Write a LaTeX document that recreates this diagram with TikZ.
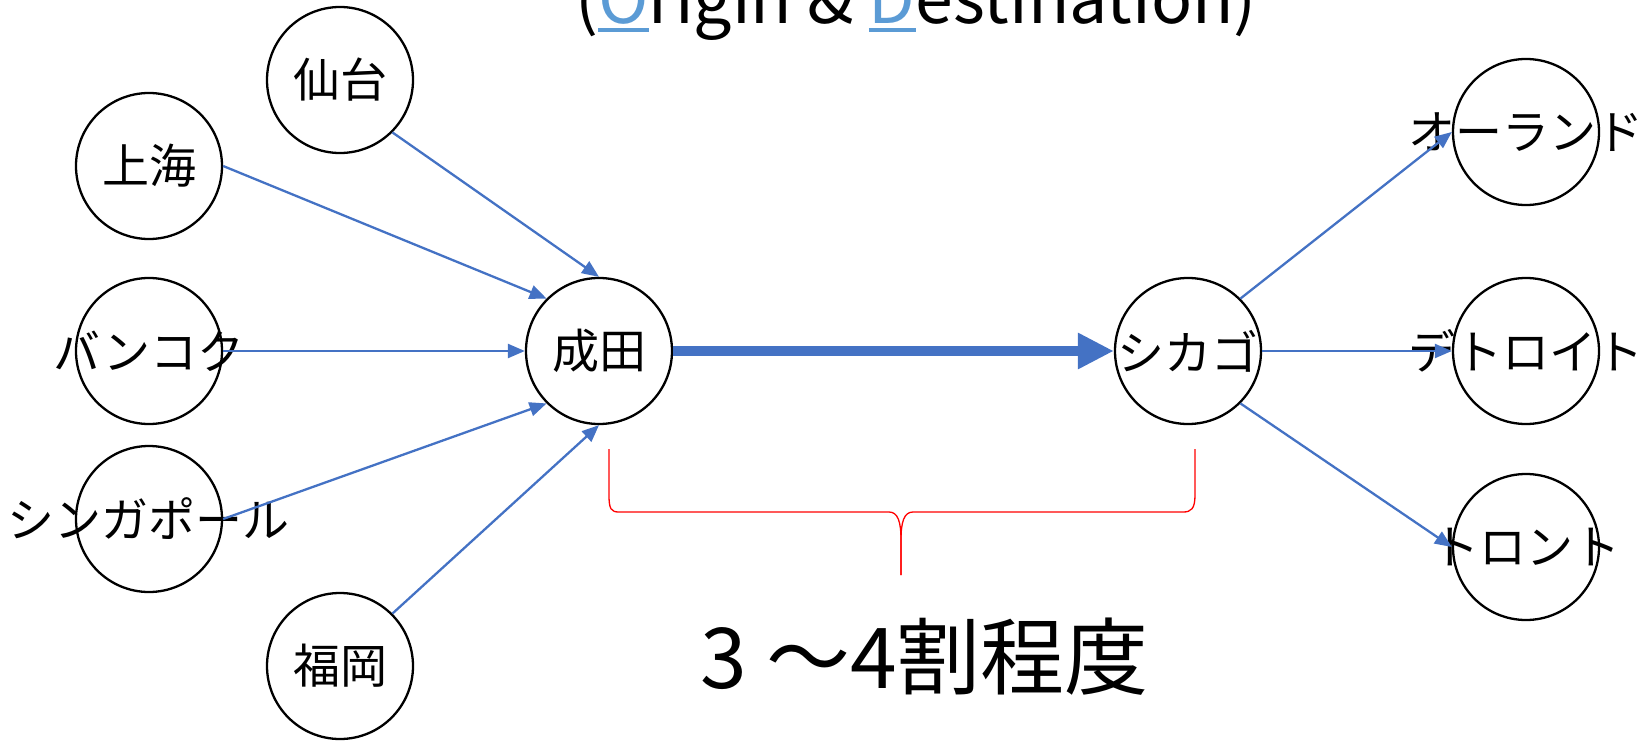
\documentclass[tikz,border=0pt]{standalone}
\usepackage{fontspec}
\setmainfont{Noto Sans CJK JP}
\usetikzlibrary{arrows.meta}
\definecolor{arrblue}{HTML}{4472C4}
\definecolor{odblue}{HTML}{5B9BD5}
\newcommand{\odmark}[1]{{\color{odblue}\setbox0\hbox{#1}\rlap{\rule[-8pt]{\wd0}{3.5pt}}\box0}}
\begin{document}
\begin{tikzpicture}[x=1pt,y=-1pt,
  city/.style={circle,draw=black,line width=2.3pt,minimum size=146pt,inner sep=0pt,fill=white},
  lab/.style={font=\fontsize{47}{54}\selectfont,inner sep=0pt,text=black},
  flow/.style={draw=arrblue,line width=2.3pt,-{Triangle[length=17pt,width=14pt]}},
  bigflow/.style={draw=arrblue,line width=10pt,-{Triangle[length=36pt,width=34pt]}},
  brace/.style={draw=red,line width=1.3pt}]
\useasboundingbox (0,0) rectangle (1647,741);

\node[anchor=base,font=\fontsize{68}{80}\selectfont] (title) at (916,24)
  {(\odmark{O}rigin \& \odmark{D}estination)};

\node[city,label={[lab]center:仙台}] (sendai) at (340,80) {};
\node[city,label={[lab]center:上海}] (shanghai) at (149,166) {};
\node[city,label={[lab]center:バンコク}] (bangkok) at (149,351) {};
\node[city,label={[lab]center:シンガポール}] (singapore) at (149,519) {};
\node[city,label={[lab]center:福岡}] (fukuoka) at (340,666) {};
\node[city,label={[lab]center:成田}] (narita) at (599,351) {};
\node[city,label={[lab]center:シカゴ}] (chicago) at (1188,351) {};
\node[city,label={[lab]center:オーランド}] (orlando) at (1526,132) {};
\node[city,label={[lab]center:デトロイト}] (detroit) at (1526,351) {};
\node[city,label={[lab]center:トロント}] (toronto) at (1526,547) {};

\draw[flow] (sendai.south east) -- (narita.north);
\draw[flow] (shanghai.east) -- (narita.north west);
\draw[flow] (bangkok.east) -- (narita.west);
\draw[flow] (singapore.east) -- (narita.south west);
\draw[flow] (fukuoka.north east) -- (narita.south);
\draw[bigflow] (narita.east) -- (chicago.west);
\draw[flow] (chicago.north east) -- (orlando.west);
\draw[flow] (chicago.east) -- (detroit.west);
\draw[flow] (chicago.south east) -- (toronto.west);

\coordinate (bl) at (609,449);
\coordinate (br) at (1195,449);
\coordinate (tip) at (901,575);
\draw[brace] (bl) -- (609,495) .. controls (609,509) and (611,512) .. (619,512)
  -- (889,512) .. controls (898,512) and (901,522) .. (901,540) -- (tip);
\draw[brace] (tip) -- (901,540) .. controls (901,522) and (904,512) .. (913,512)
  -- (1183,512) .. controls (1191,512) and (1195,509) .. (1195,495) -- (br);

\node[anchor=base,font=\fontsize{84}{94}\selectfont,inner sep=0pt] (ratio) at (925,688) {3 ～4割程度};
\end{tikzpicture}
\end{document}
